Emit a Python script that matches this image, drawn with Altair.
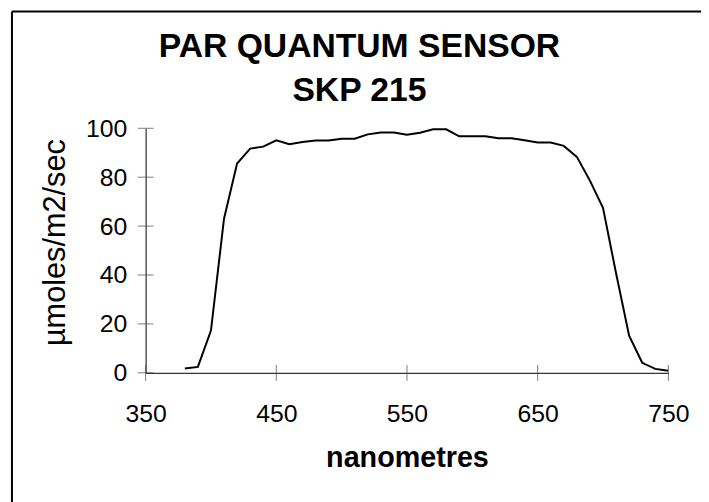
import altair as alt
import pandas as pd

# wavelength (nm) and response (µmoles/m2/sec)
wavelength = [380, 390, 400, 410, 420, 430, 440, 450, 460, 470, 480, 490, 500, 510, 520,
              530, 540, 550, 560, 570, 580, 590, 600, 610, 620, 630, 640, 650, 660, 670,
              680, 690, 700, 710, 720, 730, 740, 750]
response = [1.8, 2.4, 17.3, 63.0, 85.6, 91.7, 92.5, 95.1, 93.5, 94.4, 95.0, 95.0, 95.7, 95.7, 97.5,
            98.3, 98.3, 97.4, 98.2, 99.6, 99.6, 96.7, 96.7, 96.7, 95.9, 95.9, 95.1, 94.2, 94.2, 92.8,
            88.3, 78.6, 67.5, 40.7, 15.2, 4.1, 1.6, 0.8]
x_ticks = [350, 450, 550, 650, 750]
y_ticks = [0, 20, 40, 60, 80, 100]
title_lines = ["PAR QUANTUM SENSOR", "SKP 215"]

W, H = 528, 247
FONT = "Liberation Sans"

df = pd.DataFrame({"nm": wavelength, "val": response})
xt = pd.DataFrame({"nm": x_ticks, "val": [0] * len(x_ticks)})
yt = pd.DataFrame({"nm": [350] * len(y_ticks), "val": y_ticks})
one = pd.DataFrame({"a": [0]})

xscale = alt.Scale(domain=[350, 750], nice=False, zero=False)
yscale = alt.Scale(domain=[0, 100], nice=False)

xaxis = alt.Axis(values=x_ticks, ticks=False, grid=False, domainColor="black", domainWidth=1,
                 labelFont=FONT, labelFontSize=25, labelColor="black", labelPadding=29,
                 title="nanometres", titleFont=FONT, titleFontSize=29, titleFontWeight="bold",
                 titleColor="black", titleY=95, titleBaseline="alphabetic", labelFlush=False)
yaxis = alt.Axis(values=y_ticks, ticks=False, grid=False, domainColor="black", domainWidth=1,
                 labelFont=FONT, labelFontSize=25, labelColor="black", labelPadding=19,
                 title="µmoles/m2/sec", titleFont=FONT, titleFontSize=31, titleFontWeight="normal",
                 titleColor="black", titleX=-82, titleY=115, titleBaseline="alphabetic",
                 titleAngle=270, titleAlign="center", labelFlush=False)

line = alt.Chart(df).mark_line(color="black", strokeWidth=2).encode(
    x=alt.X("nm:Q", scale=xscale, axis=xaxis),
    y=alt.Y("val:Q", scale=yscale, axis=yaxis),
)

xtick = alt.Chart(xt).mark_tick(orient="vertical", color="#444444", size=16, thickness=1).encode(
    x=alt.X("nm:Q", scale=xscale), y=alt.Y("val:Q", scale=yscale))
ytick = alt.Chart(yt).mark_tick(orient="horizontal", color="#444444", size=16, thickness=1).encode(
    x=alt.X("nm:Q", scale=xscale), y=alt.Y("val:Q", scale=yscale))

# chart frame: only its left and top edges fall inside the picture
frame_left = alt.Chart(one).mark_rule(color="black", strokeWidth=2, clip=False).encode(
    x=alt.value(-135), y=alt.value(-118), y2=alt.value(H + 200))
frame_top = alt.Chart(one).mark_rule(color="black", strokeWidth=2, clip=False).encode(
    x=alt.value(-135), x2=alt.value(W + 200), y=alt.value(-118))

title = alt.Chart(one).mark_text(
    text=title_lines, font=FONT, fontSize=34, fontWeight="bold", color="black",
    align="center", baseline="alphabetic", lineHeight=44, clip=False).encode(
    x=alt.value(216), y=alt.value(-72))

chart = alt.layer(frame_left, frame_top, title, line, xtick, ytick).properties(
    width=W, height=H,
    autosize=alt.AutoSizeParams(type="none"),
    padding={"left": 139, "top": 119, "right": 33, "bottom": 128},
).configure(background="white", view=alt.ViewConfig(strokeWidth=0, stroke="transparent"))

chart.save("out.html", embed_options={"renderer": "svg", "actions": False})
